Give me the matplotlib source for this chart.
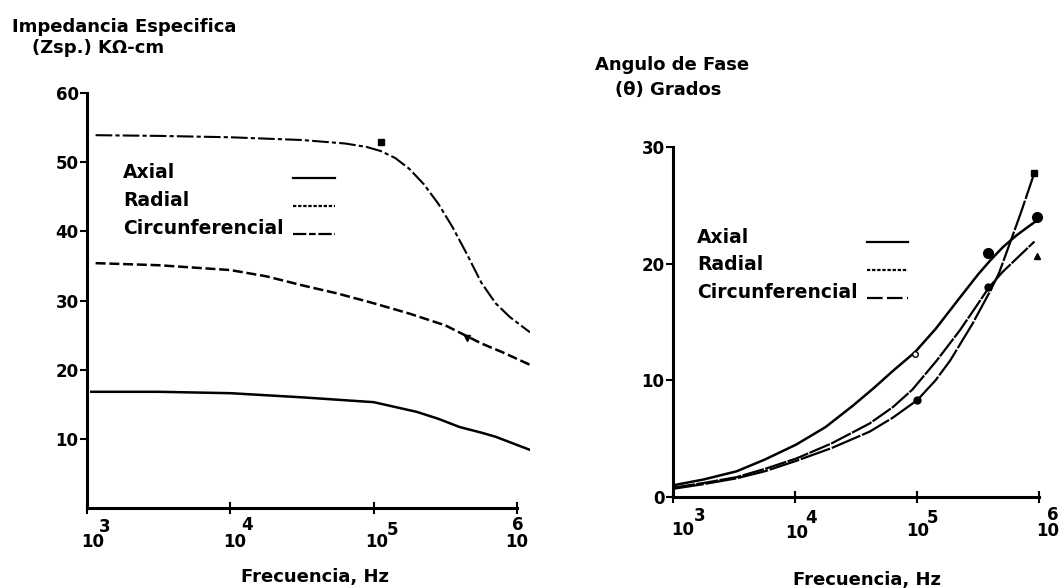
import numpy as np
import matplotlib
matplotlib.use("Agg")
import matplotlib.pyplot as plt
from matplotlib.lines import Line2D

plt.rcParams['font.family'] = ['DejaVu Sans']
plt.rcParams['font.weight'] = 'bold'

# ---- left panel: impedancia especifica (kOhm-cm) vs log10(f) ----
imp_circ_logf = [3.06, 3.5, 4.0, 4.5, 4.8, 4.95, 5.05, 5.15, 5.25, 5.35, 5.45, 5.55,
                 5.65, 5.75, 5.85, 5.95, 6.09]
imp_circ = [53.9, 53.8, 53.6, 53.2, 52.7, 52.2, 51.6, 50.6, 49.0, 46.8, 44.0, 40.6,
            36.7, 32.6, 29.6, 27.6, 25.4]
imp_rad_logf = [3.06, 3.5, 4.0, 4.25, 4.5, 4.75, 5.0, 5.25, 5.5, 5.75, 5.9, 6.09]
imp_rad = [35.4, 35.1, 34.4, 33.5, 32.2, 31.0, 29.6, 28.1, 26.4, 23.8, 22.5, 20.7]
imp_ax_logf = [3.03, 3.5, 4.0, 4.5, 5.0, 5.3, 5.45, 5.6, 5.75, 5.85, 6.09]
imp_ax = [16.8, 16.8, 16.6, 16.0, 15.3, 13.9, 12.9, 11.7, 10.9, 10.3, 8.4]

# ---- right panel: angulo de fase (grados) vs log10(f) ----
fase_ax_logf = [3.0, 3.25, 3.52, 3.75, 4.01, 4.25, 4.47, 4.64, 4.8, 4.98, 5.15, 5.35,
                5.5, 5.6, 5.7, 5.81, 5.9, 5.98]
fase_ax = [1.0, 1.5, 2.2, 3.2, 4.5, 6.0, 7.8, 9.3, 10.8, 12.4, 14.4, 17.1,
           19.1, 20.3, 21.4, 22.4, 23.1, 23.7]
fase_rad_logf = [3.0, 3.25, 3.52, 3.75, 4.01, 4.3, 4.61, 4.8, 4.96, 5.16, 5.35, 5.5,
                 5.59, 5.7, 5.85, 5.96]
fase_rad = [0.8, 1.2, 1.7, 2.4, 3.3, 4.6, 6.3, 7.7, 9.2, 11.7, 14.3, 16.6,
            18.0, 19.3, 20.8, 21.9]
fase_circ_logf = [3.0, 3.25, 3.52, 3.75, 4.01, 4.3, 4.61, 4.8, 5.0, 5.15, 5.27, 5.45,
                  5.6, 5.67, 5.75, 5.85, 5.96]
fase_circ = [0.7, 1.1, 1.6, 2.2, 3.1, 4.2, 5.6, 6.8, 8.3, 10.0, 11.7, 14.8,
             17.7, 19.2, 21.5, 24.4, 27.8]

legend_labels = ['Axial', 'Radial', 'Circunferencial']
exponents = ['3', '4', '5', '6']

fig = plt.figure(figsize=(10.59, 5.88), dpi=100)
W, H = 1059, 588

def px_axes(x0, x1, ytop, ybot):
    return fig.add_axes([x0 / W, 1 - ybot / H, (x1 - x0) / W, (ybot - ytop) / H])

ax1 = px_axes(87, 530, 93, 508)
ax2 = px_axes(673, 1043, 147, 497)

lw = 1.8
ax1.plot(10 ** np.array(imp_circ_logf), imp_circ, color='black', lw=1.5,
         dashes=(8, 1.5, 2, 1.5))
ax1.plot(10 ** np.array(imp_rad_logf), imp_rad, color='black', lw=lw, dashes=(4, 1.5))
ax1.plot(10 ** np.array(imp_ax_logf), imp_ax, color='black', lw=lw)
ax1.plot([10 ** 5.05], [52.9], 's', color='black', ms=4)
ax1.plot([10 ** 5.65], [24.6], 'v', color='black', ms=4)

ax2.plot(10 ** np.array(fase_ax_logf), fase_ax, color='black', lw=lw)
ax2.plot(10 ** np.array(fase_rad_logf), fase_rad, color='black', lw=1.6, dashes=(10, 0.6))
ax2.plot(10 ** np.array(fase_circ_logf), fase_circ, color='black', lw=1.6, dashes=(14, 0.8))
ax2.plot([10 ** 4.98], [12.3], 'o', mfc='white', mec='black', ms=4)
ax2.plot([10 ** 5.58, 10 ** 5.98], [20.9, 24.0], 'o', color='black', ms=7)
ax2.plot([10 ** 5.58, 10 ** 5.0], [18.0, 8.3], 'o', color='black', ms=5)
ax2.plot([10 ** 5.98], [20.7], '^', color='black', ms=4)
ax2.plot([10 ** 5.96], [27.8], 's', color='black', ms=4)

for ax, xmax, ymax, yticks in [(ax1, 10 ** 6.09, 60, [10, 20, 30, 40, 50, 60]),
                               (ax2, 10 ** 6.03, 30, [0, 10, 20, 30])]:
    ax.set_xscale('log')
    ax.set_xlim(1e3, xmax)
    ax.set_ylim(0, ymax)
    for s in ['top', 'right']:
        ax.spines[s].set_visible(False)
    ax.spines['left'].set_linewidth(2.2)
    ax.spines['bottom'].set_linewidth(2.2)
    ax.spines['bottom'].set_bounds(1e3, 1e6)
    ax.set_yticks(yticks)
    ax.set_yticklabels([str(t) for t in yticks], fontsize=12, fontweight='bold')
    ax.tick_params(axis='y', direction='out', length=5, width=1.5, pad=1)
    ax.set_xticks([1e3, 1e4, 1e5, 1e6])
    ax.set_xticklabels([])
    ax.xaxis.set_minor_locator(matplotlib.ticker.NullLocator())
    ax.tick_params(axis='x', direction='inout', length=8, width=1.5)

# tick labels "10" with raised exponent (offsets in pixels)
lab1 = [(6, -34, 18, -19), (4, -34, 17, -17), (3, -34, 19, -22), (0, -34, 1, -17)]
lab2 = [(10, -33, 27, -19), (2, -36, 16, -21), (0, -34, 15, -21), (8, -34, 13, -18)]
for ax, offs in [(ax1, lab1), (ax2, lab2)]:
    for e, (dx, dy, ex, ey) in zip(exponents, offs):
        x = 10 ** int(e)
        ax.annotate('10', xy=(x, 0), xycoords=('data', 'axes fraction'),
                    xytext=(dx * 0.72, dy * 0.72), textcoords='offset points',
                    ha='center', va='center', fontsize=12, fontweight='bold',
                    annotation_clip=False)
        ax.annotate(e, xy=(x, 0), xycoords=('data', 'axes fraction'),
                    xytext=(ex * 0.72, ey * 0.72), textcoords='offset points',
                    ha='center', va='center', fontsize=12, fontweight='bold',
                    annotation_clip=False)

# legends (text left-aligned, line samples aligned in a column)
def legend(tx, ty, lx0, lx1, styles):
    for i, (lab, st) in enumerate(zip(legend_labels, styles)):
        y = ty + i * 28
        fig.text(tx / W, 1 - y / H, lab, fontsize=13.5, fontweight='bold',
                 ha='left', va='center')
        fig.add_artist(Line2D([lx0 / W, lx1 / W], [1 - (y + 5) / H] * 2,
                              color='black', lw=1.6, **st))

legend(123, 173, 293, 335,
       [dict(), dict(dashes=(1.5, 0.8)), dict(dashes=(6, 1.2, 3, 1.2))])
legend(697, 237, 867, 908,
       [dict(), dict(dashes=(1.5, 0.8)), dict(dashes=(7, 2))])

# axis titles
tkw = dict(fontsize=13, fontweight='bold', va='center')
fig.text(12 / W, 1 - 27 / H, 'Impedancia Especifica', ha='left', **tkw)
fig.text(32 / W, 1 - 48 / H, '(Zsp.) KΩ-cm', ha='left', **tkw)
fig.text(595 / W, 1 - 65 / H, 'Angulo de Fase', ha='left', **tkw)
fig.text(615 / W, 1 - 90 / H, '(θ) Grados', ha='left', **tkw)
fig.text(315 / W, 1 - 577 / H, 'Frecuencia, Hz', ha='center', **tkw)
fig.text(867 / W, 1 - 580 / H, 'Frecuencia, Hz', ha='center', **tkw)

fig.savefig('out.png', dpi=100)
